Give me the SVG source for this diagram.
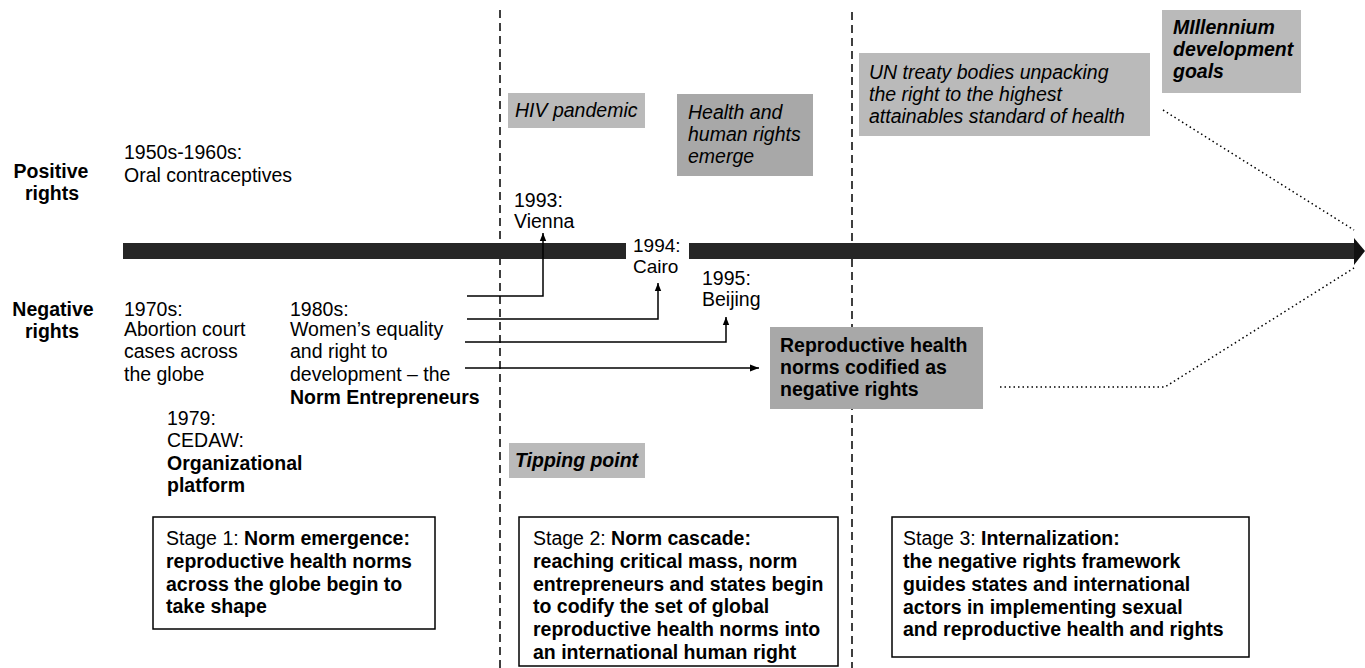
<svg xmlns="http://www.w3.org/2000/svg" width="1365" height="668" viewBox="0 0 1365 668">
<style>
text{font-family:"Liberation Sans",Arial,Helvetica,sans-serif;font-size:19.5px;fill:#000}
.b{font-weight:bold}
.i{font-style:italic}
.bi{font-style:italic;font-weight:bold}
.c{text-anchor:middle}
.sm{font-size:19px}
.gray{fill:#bababa}
.dgray{fill:#a8a8a8}
.stage{fill:#fff;stroke:#000;stroke-width:1.5}
.dash{stroke:#000;stroke-width:1.5;stroke-dasharray:8 5;fill:none}
.conn{stroke:#000;stroke-width:1.5;fill:none}
.dot{stroke:#000;stroke-width:1.5;stroke-dasharray:1.5 3;fill:none}
</style>
<defs>
<marker id="ah" viewBox="0 0 10 10" refX="10" refY="5" markerWidth="10" markerHeight="8" orient="auto" markerUnits="userSpaceOnUse">
<path d="M0,1 L10,5 L0,9 Z" fill="#000"/>
</marker>
<marker id="ah2" viewBox="0 0 10 10" refX="10" refY="5" markerWidth="12" markerHeight="9" orient="auto" markerUnits="userSpaceOnUse">
<path d="M0,1 L10,5 L0,9 Z" fill="#000"/>
</marker>
</defs>
<rect width="1365" height="668" fill="#fff"/>

<g id="stage-dividers">
<line class="dash" x1="500" y1="10" x2="500" y2="668"/>
<line class="dash" x1="852" y1="12" x2="852" y2="668"/>
</g>

<g id="timeline">
<rect x="123" y="243" width="503" height="16" fill="#262626"/>
<rect x="689" y="243" width="667" height="16" fill="#262626"/>
<path d="M1354,238 L1365,251 L1354,265 Z" fill="#111"/>
</g>

<g id="row-labels">
<text class="b c" x="51" y="178">Positive</text>
<text class="b c" x="52" y="200">rights</text>
<text class="b c" x="53" y="316">Negative</text>
<text class="b c" x="52" y="338">rights</text>
</g>

<g id="n-1950s">
<text x="124" y="159">1950s-1960s:</text>
<text x="124" y="182">Oral contraceptives</text>
</g>

<g id="n-1970s">
<text x="124" y="316">1970s:</text>
<text x="124" y="336">Abortion court</text>
<text x="124" y="358">cases across</text>
<text x="124" y="381">the globe</text>
</g>

<g id="n-1980s">
<text x="290" y="316">1980s:</text>
<text x="290" y="336">Women’s equality</text>
<text x="290" y="358">and right to</text>
<text x="290" y="381">development – the</text>
<text class="b" x="290" y="404">Norm Entrepreneurs</text>
</g>

<g id="n-1979">
<text x="167" y="425">1979:</text>
<text x="167" y="447">CEDAW:</text>
<text class="b" x="167" y="470">Organizational</text>
<text class="b" x="167" y="492">platform</text>
</g>

<g id="n-hiv">
<rect class="gray" x="508" y="93" width="137" height="35"/>
<text class="i" x="515" y="117">HIV pandemic</text>
</g>

<g id="n-health">
<rect class="dgray" x="677" y="94" width="136" height="82"/>
<text class="i" x="688" y="119">Health and</text>
<text class="i" x="688" y="141">human rights</text>
<text class="i" x="688" y="163">emerge</text>
</g>

<g id="n-un">
<rect class="gray" x="859" y="53" width="291" height="83"/>
<text class="i" x="869" y="79">UN treaty bodies unpacking</text>
<text class="i" x="869" y="101">the right to the highest</text>
<text class="i" x="869" y="123">attainables standard of health</text>
</g>

<g id="n-mdg">
<rect class="gray" x="1162" y="10" width="139" height="83"/>
<text class="bi" x="1173" y="34">MIllennium</text>
<text class="bi" x="1173" y="56">development</text>
<text class="bi" x="1173" y="78">goals</text>
</g>

<g id="n-vienna">
<text x="514" y="207">1993:</text>
<text x="514" y="228">Vienna</text>
</g>

<g id="n-cairo">
<text class="sm" x="633" y="252">1994:</text>
<text class="sm" x="633" y="273">Cairo</text>
</g>

<g id="n-beijing">
<text x="702" y="285">1995:</text>
<text x="702" y="306">Beijing</text>
</g>

<g id="n-codified">
<rect class="dgray" x="770" y="327" width="213" height="82"/>
<text class="b" x="780" y="352">Reproductive health</text>
<text class="b" x="780" y="374">norms codified as</text>
<text class="b" x="780" y="396">negative rights</text>
</g>

<g id="n-tipping">
<rect class="gray" x="509" y="443" width="136" height="35"/>
<text class="bi" x="515" y="467">Tipping point</text>
</g>

<g id="stage1">
<rect class="stage" x="153" y="517" width="282" height="112"/>
<text x="166" y="545">Stage 1: <tspan class="b">Norm emergence:</tspan></text>
<text class="b" x="166" y="568">reproductive health norms</text>
<text class="b" x="166" y="591">across the globe begin to</text>
<text class="b" x="166" y="613">take shape</text>
</g>

<g id="stage2">
<rect class="stage" x="519" y="517" width="319" height="149"/>
<text x="533" y="545">Stage 2: <tspan class="b">Norm cascade:</tspan></text>
<text class="b" x="533" y="568">reaching critical mass, norm</text>
<text class="b" x="533" y="591">entrepreneurs and states begin</text>
<text class="b" x="533" y="613">to codify the set of global</text>
<text class="b" x="533" y="636">reproductive health norms into</text>
<text class="b" x="533" y="659">an international human right</text>
</g>

<g id="stage3">
<rect class="stage" x="892" y="517" width="357" height="140"/>
<text x="903" y="545">Stage 3: <tspan class="b">Internalization:</tspan></text>
<text class="b" x="903" y="568">the negative rights framework</text>
<text class="b" x="903" y="591">guides states and international</text>
<text class="b" x="903" y="614">actors in implementing sexual</text>
<text class="b" x="903" y="636">and reproductive health and rights</text>
</g>

<g id="connectors">
<polyline class="conn" points="467,296 543,296 543,233" marker-end="url(#ah)"/>
<polyline class="conn" points="467,319 658,319 658,283" marker-end="url(#ah)"/>
<polyline class="conn" points="465,342 726,342 726,317" marker-end="url(#ah)"/>
<line class="conn" x1="465" y1="368" x2="759" y2="368" marker-end="url(#ah2)"/>
<line class="dot" x1="1163" y1="110" x2="1354" y2="230"/>
<polyline class="dot" points="1000,387 1165,387 1354,268"/>
</g>
</svg>
